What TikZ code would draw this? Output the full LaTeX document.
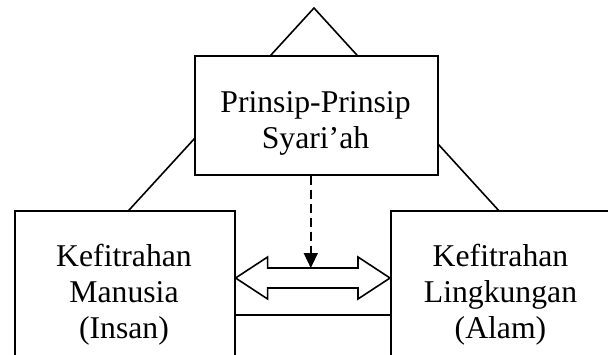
\documentclass[tikz,border=0pt]{standalone}
\usepackage{fontspec}
\setmainfont{Liberation Serif}
\usetikzlibrary{arrows.meta,calc}
\tikzset{
  kotak/.style={draw, line width=1.6pt, fill=white, inner sep=0pt},
  teks/.style={align=center, inner sep=0pt, font=\fontsize{31.7}{36}\selectfont},
  garis/.style={line width=1.6pt},
}
\begin{document}
\begin{tikzpicture}[x=1pt,y=-1pt]
  \useasboundingbox (0,0) rectangle (608,354);
  \clip (0,0) rectangle (608,354);
  % segitiga di belakang kotak
  \coordinate (puncak) at (314,8);
  \coordinate (alaskiri) at (33,315);
  \coordinate (alaskanan) at (594,315);
  \draw[garis] (puncak) -- (alaskiri) -- (alaskanan) -- cycle;
  % kotak
  \node[kotak, minimum width=243pt, minimum height=119pt, anchor=north west] (prinsip) at (194,55) {};
  \node[kotak, minimum width=220pt, minimum height=200pt, anchor=north west] (manusia) at (14,210) {};
  \node[kotak, minimum width=221pt, minimum height=200pt, anchor=north west] (alam) at (390,210) {};
  \node[teks, anchor=base] (prinsipteks) at (315.5,148) {Prinsip-Prinsip\\Syari’ah};
  \node[teks, anchor=base] (manusiateks) at (124,338) {Kefitrahan\\Manusia\\(Insan)};
  \node[teks, anchor=base] (alamteks) at (500.5,338) {Kefitrahan\\Lingkungan\\(Alam)};
  % panah dua arah
  \coordinate (kiri) at ($(manusia.north east)+(0,68)$);
  \coordinate (kanan) at ($(alam.north west)+(0,68)$);
  \draw[garis, fill=white] (kiri) -- ++(32,-21) -- ++(0,11) -- ($(kanan)+(-32,-10)$) -- ++(0,-11) -- (kanan)
    -- ++(-32,21) -- ++(0,-11) -- ($(kiri)+(32,10)$) -- ++(0,11) -- cycle;
  % panah putus-putus
  \coordinate (panahatas) at ($(kiri)!0.5!(kanan)+(-2,-10)$);
  \draw[garis, dash pattern=on 9pt off 5pt, -{Triangle[length=15pt,width=14pt]}] (prinsip.south -| panahatas) -- (panahatas);
\end{tikzpicture}
\end{document}
